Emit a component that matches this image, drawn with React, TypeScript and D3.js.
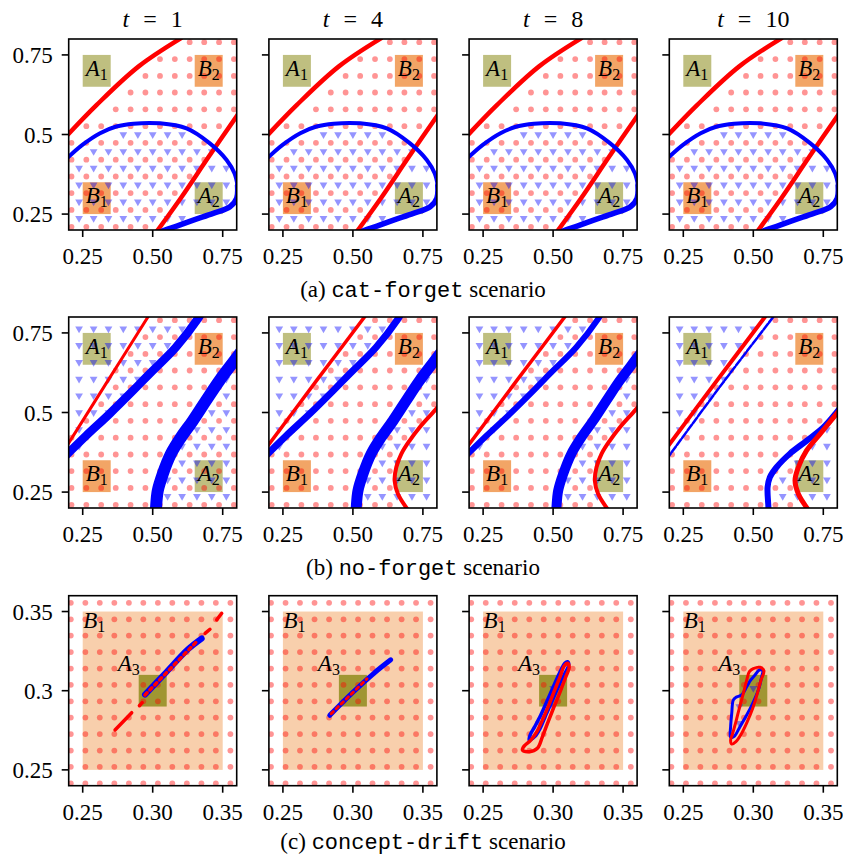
import React from 'react'
import * as d3 from 'd3'

type Pt = [number, number]

// ---------- values ----------
const TIME_STEPS = ['1', '4', '8', '10']
const SCENARIO_TAGS = ['(a)', '(b)', '(c)']
const SCENARIO_NAMES = ['cat-forget', 'no-forget', 'concept-drift']

const AB_TICKS = [0.25, 0.5, 0.75]
const AB_X_LABELS = ['0.25', '0.50', '0.75']
const AB_Y_LABELS = ['0.25', '0.5', '0.75']
const C_TICKS = [0.25, 0.3, 0.35]
const C_X_LABELS = ['0.25', '0.30', '0.35']
const C_Y_LABELS = ['0.25', '0.3', '0.35']

// sample grids (circles and triangles sit on shifted lattices)
const AB_DOT_GRID = [0.21, 0.263, 0.316, 0.368, 0.421, 0.474, 0.526, 0.579, 0.632, 0.684, 0.737, 0.79]
const AB_TRI_GRID = [0.237, 0.289, 0.342, 0.395, 0.447, 0.5, 0.553, 0.605, 0.658, 0.711, 0.763]
const C_DOT_GRID = [0.2415, 0.2519, 0.2622, 0.2726, 0.283, 0.2933, 0.3037, 0.314, 0.3244, 0.3348, 0.3451, 0.3555]

// task regions: letter, index, x0, x1, y0, y1
const AB_BOXES: [string, string, number, number, number, number][] = [
  ['A', '1', 0.25, 0.35, 0.65, 0.75],
  ['B', '2', 0.65, 0.75, 0.65, 0.75],
  ['B', '1', 0.25, 0.35, 0.25, 0.35],
  ['A', '2', 0.65, 0.75, 0.25, 0.35],
]
const C_BOXES: [string, string, number, number, number, number][] = [
  ['B', '1', 0.25, 0.35, 0.25, 0.35],
  ['A', '3', 0.29, 0.31, 0.29, 0.31],
]

// which lattice points are shown (top row first)
const CAT_DOTS = [
  '000000001111',
  '000000111111',
  '000001111111',
  '000011111111',
  '000111111111',
  '011111111110',
  '111111111100',
  '111111111100',
  '111111111000',
  '111111110000',
  '111111100000',
  '111111000000',
]
const CAT_TRIS = [
  '00000000000',
  '00000000000',
  '00000000000',
  '00000000000',
  '00000000000',
  '00011111000',
  '01111111110',
  '11111111111',
  '11111111111',
  '11111111111',
  '11111111000',
]
const NOF_DOTS_T1 = [
  '000000111111',
  '000001111111',
  '000011111111',
  '000111111111',
  '000111111111',
  '001111111111',
  '011111111111',
  '111111111111',
  '111111111111',
  '111111111111',
  '111111111111',
  '111111111111',
]
const NOF_DOTS_LATER = [
  '000000011111',
  '000000111111',
  '000001111111',
  '000011111111',
  '000111111111',
  '001111111111',
  '011111111110',
  '011111111100',
  '111111111000',
  '111111111000',
  '111111111000',
  '111111111000',
]
const NOF_TRIS = [
  '11111111000',
  '11111110000',
  '11111100000',
  '11111000001',
  '11110000001',
  '11100000011',
  '11000000111',
  '10000001111',
  '00000001111',
  '00000011111',
  '00000011111',
]
const NOF_TRIS_T10 = [
  '11111100000',
  '11111000000',
  '11110000000',
  '11110000000',
  '11100000000',
  '11000000000',
  '10000000001',
  '00000000011',
  '00000000111',
  '00000001111',
  '00000001111',
]
const CD_DOTS = [
  '111111111111',
  '111111111111',
  '111111111111',
  '111111111111',
  '111111111111',
  '111111111111',
  '111111111111',
  '111111111111',
  '111111111111',
  '111111111111',
  '111111111111',
  '111111111111',
]
const CD_TRIS_T8: Pt[] = [[0.3, 0.3015], [0.3, 0.29], [0.29, 0.2794]]
const CD_TRIS_T10: Pt[] = [[0.3, 0.3015], [0.29, 0.29], [0.29, 0.2794]]

// boundaries, cat-forget (all four steps look alike)
const CAT_RED_UPPER: Pt[] = [[0.19, 0.493], [0.3, 0.593], [0.45, 0.714], [0.6, 0.802]]
const CAT_RED_LOWER: Pt[] = [[0.51, 0.19], [0.6, 0.3], [0.7, 0.43], [0.81, 0.57]]
const CAT_BLUE_ARC: Pt[] = [[0.19, 0.422], [0.25, 0.468], [0.312, 0.504], [0.37, 0.525], [0.431, 0.534], [0.526, 0.535], [0.621, 0.519], [0.704, 0.472], [0.764, 0.42], [0.792, 0.378], [0.803, 0.34]]
const CAT_BLUE_LOW: Pt[] = [[0.803, 0.34], [0.8, 0.3], [0.776, 0.273], [0.716, 0.252], [0.645, 0.231], [0.586, 0.212], [0.544, 0.2], [0.52, 0.19]]

// boundaries, no-forget
const NOF_RED_A_T1: Pt[] = [[0.19, 0.39], [0.34, 0.6], [0.49, 0.81]]
const NOF_RED_A: Pt[] = [[0.19, 0.388], [0.37, 0.6], [0.55, 0.81]]
const NOF_BLUE_A: Pt[] = [[0.19, 0.365], [0.262, 0.427], [0.345, 0.495], [0.429, 0.568], [0.488, 0.621], [0.583, 0.705], [0.661, 0.794], [0.672, 0.81]]
const NOF_BLUE_A_T10: Pt[] = [[0.19, 0.353], [0.38, 0.58], [0.58, 0.81]]
const NOF_BLUE_B: Pt[] = [[0.511, 0.19], [0.512, 0.202], [0.518, 0.254], [0.536, 0.307], [0.565, 0.37], [0.601, 0.422], [0.643, 0.474], [0.69, 0.537], [0.738, 0.6], [0.792, 0.663], [0.815, 0.69]]
const NOF_BLUE_B_T10: Pt[] = [[0.554, 0.19], [0.554, 0.202], [0.551, 0.265], [0.559, 0.296], [0.583, 0.328], [0.63, 0.37], [0.69, 0.411], [0.75, 0.453], [0.798, 0.501], [0.815, 0.52]]
const NOF_RED_B: Pt[] = [[0.7, 0.19], [0.69, 0.202], [0.661, 0.244], [0.649, 0.286], [0.655, 0.328], [0.673, 0.37], [0.702, 0.411], [0.738, 0.453], [0.792, 0.506], [0.815, 0.53]]
const NOF_RED_B_T10: Pt[] = [[0.7, 0.19], [0.69, 0.202], [0.661, 0.244], [0.649, 0.286], [0.661, 0.328], [0.69, 0.38], [0.738, 0.432], [0.792, 0.49], [0.815, 0.515]]

// boundaries, concept-drift
const CD_BLUE_T1: Pt[] = [[0.2945, 0.2975], [0.31, 0.312], [0.325, 0.326], [0.335, 0.333]]
const CD_RED_T1: Pt[][] = [
  [[0.2731, 0.2752], [0.285, 0.2861]],
  [[0.2905, 0.2905], [0.2925, 0.2925]],
  [[0.2945, 0.2973], [0.3314, 0.331]],
  [[0.3374, 0.3362], [0.3409, 0.3388]],
  [[0.3457, 0.3447], [0.3493, 0.3489]],
]
const CD_BLUE_T4: Pt[] = [[0.2835, 0.2845], [0.3, 0.299], [0.315, 0.311], [0.327, 0.3195]]
const CD_RED_T4: Pt[] = [[0.2845, 0.2855], [0.31, 0.3075]]
const CD_RED_T8: Pt[] = [[0.2781, 0.2625], [0.2829, 0.2615], [0.2888, 0.2636], [0.2924, 0.271], [0.296, 0.2794], [0.3007, 0.2899], [0.3055, 0.3004], [0.3091, 0.3089], [0.3115, 0.3148], [0.3103, 0.3173], [0.3079, 0.3156], [0.305, 0.3089], [0.3007, 0.2994], [0.2965, 0.2899], [0.2924, 0.2815], [0.2884, 0.2741], [0.2841, 0.2688], [0.2793, 0.265]]
const CD_BLUE_T8: Pt[] = [[0.2829, 0.2688], [0.2869, 0.271], [0.2907, 0.2762], [0.2948, 0.2846], [0.2996, 0.2941], [0.3043, 0.3036], [0.3084, 0.311], [0.3112, 0.3162], [0.3103, 0.3183], [0.3084, 0.3173], [0.305, 0.312], [0.3007, 0.3036], [0.296, 0.2941], [0.2912, 0.2846], [0.2869, 0.2773], [0.2836, 0.272]]
const CD_RED_T10: Pt[] = [[0.2846, 0.2663], [0.2876, 0.2678], [0.2917, 0.2731], [0.2957, 0.2804], [0.2996, 0.2889], [0.3029, 0.2983], [0.3055, 0.3067], [0.3076, 0.3126], [0.3048, 0.3148], [0.3, 0.3139], [0.2972, 0.312], [0.2953, 0.3067], [0.2929, 0.2983], [0.29, 0.2889], [0.2876, 0.2804], [0.2853, 0.2731], [0.2838, 0.2688]]
const CD_BLUE_T10: Pt[] = [[0.2838, 0.2705], [0.2862, 0.271], [0.2905, 0.2773], [0.2953, 0.2846], [0.2996, 0.292], [0.3036, 0.3004], [0.306, 0.3089], [0.3067, 0.3126], [0.3043, 0.3131], [0.3012, 0.3099], [0.2981, 0.3067], [0.2953, 0.3025], [0.2917, 0.2973], [0.2876, 0.2958], [0.2857, 0.2941], [0.2846, 0.2857], [0.2838, 0.2773]]

// ---------- layout ----------
const COL_X = [68.7, 268.9, 469.1, 669.3]
const ROW_TOP = [39, 317, 595.7]
const ROW_H = [191, 191, 190]
const PANEL_W = 168
const CAPTION_Y = [297, 575, 849]
const SERIF = '"Liberation Serif", "DejaVu Serif", serif'
const MONO = '"Liberation Mono", "DejaVu Sans Mono", monospace'
const RED = '#ff0000'
const BLUE = '#0000ff'

type Curve = { pts: Pt[]; color: string; w: number; closed?: boolean; dash?: string }
type PanelCfg = { dots: string[]; tris?: string[]; triPts?: Pt[]; curves: Curve[] }

const c = (pts: Pt[], color: string, w: number, extra: Partial<Curve> = {}): Curve => ({ pts, color, w, ...extra })

const ROWS = [
  {
    domain: [0.2, 0.8],
    ticks: AB_TICKS,
    xLabels: AB_X_LABELS,
    yLabels: AB_Y_LABELS,
    boxes: AB_BOXES,
    boxFill: { A: '#bfbf80', B: '#f2a566' },
    labelMode: 'center',
    dotGrid: AB_DOT_GRID,
    triGrid: AB_TRI_GRID,
    panels: TIME_STEPS.map(() => ({
      dots: CAT_DOTS,
      tris: CAT_TRIS,
      curves: [
        c(CAT_RED_UPPER, RED, 4.5),
        c(CAT_RED_LOWER, RED, 4.5),
        c(CAT_BLUE_ARC, BLUE, 4),
        c(CAT_BLUE_LOW, BLUE, 5.5),
      ],
    })) as PanelCfg[],
  },
  {
    domain: [0.2, 0.8],
    ticks: AB_TICKS,
    xLabels: AB_X_LABELS,
    yLabels: AB_Y_LABELS,
    boxes: AB_BOXES,
    boxFill: { A: '#bfbf80', B: '#f2a566' },
    labelMode: 'center',
    dotGrid: AB_DOT_GRID,
    triGrid: AB_TRI_GRID,
    panels: [
      { dots: NOF_DOTS_T1, tris: NOF_TRIS, curves: [c(NOF_RED_A_T1, RED, 3), c(NOF_BLUE_A, BLUE, 8.5), c(NOF_BLUE_B, BLUE, 12)] },
      { dots: NOF_DOTS_LATER, tris: NOF_TRIS, curves: [c(NOF_RED_A, RED, 3.5), c(NOF_BLUE_A, BLUE, 7), c(NOF_BLUE_B, BLUE, 11), c(NOF_RED_B, RED, 4)] },
      { dots: NOF_DOTS_LATER, tris: NOF_TRIS, curves: [c(NOF_RED_A, RED, 3.5), c(NOF_BLUE_A, BLUE, 6), c(NOF_BLUE_B, BLUE, 10), c(NOF_RED_B, RED, 4)] },
      { dots: NOF_DOTS_LATER, tris: NOF_TRIS_T10, curves: [c(NOF_RED_A, RED, 4), c(NOF_BLUE_A_T10, BLUE, 2.5, { dash: '7 2' }), c(NOF_BLUE_B_T10, BLUE, 6), c(NOF_RED_B_T10, RED, 5)] },
    ] as PanelCfg[],
  },
  {
    domain: [0.24, 0.36],
    ticks: C_TICKS,
    xLabels: C_X_LABELS,
    yLabels: C_Y_LABELS,
    boxes: C_BOXES,
    boxFill: { A: '#a09632', B: '#f8cfac' },
    labelMode: 'corner',
    dotGrid: C_DOT_GRID,
    triGrid: C_DOT_GRID,
    panels: [
      {
        dots: CD_DOTS,
        curves: [c(CD_BLUE_T1, BLUE, 6), ...CD_RED_T1.map((s, i) => c(s, RED, 3.5, i === 2 ? { dash: '3 4' } : {}))],
      },
      { dots: CD_DOTS, curves: [c(CD_BLUE_T4, BLUE, 5), c(CD_RED_T4, RED, 3, { dash: '3 4' })] },
      { dots: CD_DOTS, triPts: CD_TRIS_T8, curves: [c(CD_BLUE_T8, BLUE, 3.5, { closed: true }), c(CD_RED_T8, RED, 3.5, { closed: true })] },
      { dots: CD_DOTS, triPts: CD_TRIS_T10, curves: [c(CD_BLUE_T10, BLUE, 3, { closed: true }), c(CD_RED_T10, RED, 3, { closed: true })] },
    ] as PanelCfg[],
  },
]

const triangle = d3.symbol(d3.symbolTriangle, 26)()

function Sub({ x, y, letter, idx, anchor }: any) {
  return (
    <text x={x} y={y} textAnchor={anchor} fontFamily={SERIF} fontSize={23} fill="#000">
      <tspan fontStyle="italic">{letter}</tspan>
      <tspan fontSize={16} dy={4}>{idx}</tspan>
    </text>
  )
}

function Panel({ r, col }: { r: number; col: number }) {
  const row = ROWS[r]
  const cfg = row.panels[col]
  const x0 = COL_X[col]
  const top = ROW_TOP[r]
  const h = ROW_H[r]
  const x = d3.scaleLinear().domain(row.domain).range([x0, x0 + PANEL_W])
  const y = d3.scaleLinear().domain(row.domain).range([top + h, top])
  const clipId = `clip-${r}-${col}`
  const nDot = row.dotGrid.length
  const nTri = row.triGrid.length

  const dots: Pt[] = []
  cfg.dots.forEach((line, i) =>
    line.split('').forEach((ch, j) => {
      if (ch === '1') dots.push([row.dotGrid[j], row.dotGrid[nDot - 1 - i]])
    })
  )
  const tris: Pt[] = []
  if (cfg.tris)
    cfg.tris.forEach((line, i) =>
      line.split('').forEach((ch, j) => {
        if (ch === '1') tris.push([row.triGrid[j], row.triGrid[nTri - 1 - i]])
      })
    )
  if (cfg.triPts) tris.push(...cfg.triPts)

  const path = (cv: Curve) =>
    d3
      .line<Pt>()
      .x((d) => x(d[0]))
      .y((d) => y(d[1]))
      .curve(cv.closed ? d3.curveCatmullRomClosed : d3.curveCatmullRom)(cv.pts) || ''

  return (
    <g>
      <defs>
        <clipPath id={clipId}>
          <rect x={x0} y={top} width={PANEL_W} height={h} />
        </clipPath>
      </defs>
      <g clipPath={`url(#${clipId})`}>
        {row.boxes.map((b, i) => (
          <rect
            key={'b' + i}
            x={x(b[2])}
            y={y(b[5])}
            width={x(b[3]) - x(b[2])}
            height={y(b[4]) - y(b[5])}
            fill={(row.boxFill as any)[b[0]]}
          />
        ))}
        {dots.map((d, i) => (
          <circle key={'d' + i} cx={x(d[0])} cy={y(d[1])} r={2.9} fill="#ff0000" fillOpacity={0.42} />
        ))}
        {tris.map((d, i) => (
          <path
            key={'t' + i}
            d={triangle}
            transform={`translate(${x(d[0])},${y(d[1])}) rotate(180)`}
            fill="#0000ff"
            fillOpacity={0.42}
          />
        ))}
        {cfg.curves.map((cv, i) => (
          <path
            key={'c' + i}
            d={path(cv)}
            fill="none"
            stroke={cv.color}
            strokeWidth={cv.w}
            strokeLinecap="round"
            strokeLinejoin="round"
            strokeDasharray={cv.dash}
          />
        ))}
      </g>
      {row.boxes.map((b, i) =>
        row.labelMode === 'center' ? (
          <Sub
            key={'l' + i}
            x={(x(b[2]) + x(b[3])) / 2}
            y={(y(b[4]) + y(b[5])) / 2 + 5}
            letter={b[0]}
            idx={b[1]}
            anchor="middle"
          />
        ) : b[0] === 'B' ? (
          <Sub key={'l' + i} x={x(b[2]) + 0.5} y={y(b[5]) + 16} letter={b[0]} idx={b[1]} anchor="start" />
        ) : (
          <Sub key={'l' + i} x={x(b[2]) + 1} y={y(b[5]) - 4} letter={b[0]} idx={b[1]} anchor="end" />
        )
      )}
      <rect x={x0} y={top} width={PANEL_W} height={h} fill="none" stroke="#000" strokeWidth={1.6} />
      {row.ticks.map((t, i) => (
        <g key={'xt' + i}>
          <line x1={x(t)} x2={x(t)} y1={top + h} y2={top + h + 7} stroke="#000" strokeWidth={1.6} />
          <text x={x(t)} y={top + h + 34} textAnchor="middle" fontFamily={SERIF} fontSize={23}>
            {row.xLabels[i]}
          </text>
        </g>
      ))}
      {row.ticks.map((t, i) => (
        <g key={'yt' + i}>
          <line x1={x0 - 7} x2={x0} y1={y(t)} y2={y(t)} stroke="#000" strokeWidth={1.6} />
          {col === 0 && (
            <text x={x0 - 16} y={y(t) + 8} textAnchor="end" fontFamily={SERIF} fontSize={23}>
              {row.yLabels[i]}
            </text>
          )}
        </g>
      ))}
    </g>
  )
}

export default function App() {
  return (
    <svg
      width={843}
      height={859}
      viewBox="0 0 843 859"
      style={{ position: 'absolute', left: 0, top: 0, background: '#fff' }}
    >
      <rect width={843} height={859} fill="#fff" />
      {TIME_STEPS.map((t, i) => (
        <text key={'title' + i} x={COL_X[i] + PANEL_W / 2} y={27} textAnchor="middle" fontFamily={SERIF} fontSize={24}>
          <tspan fontStyle="italic">t</tspan>
          <tspan dx={14}>=</tspan>
          <tspan dx={14}>{t}</tspan>
        </text>
      ))}
      {ROWS.map((_, r) => (
        <g key={'row' + r}>
          {TIME_STEPS.map((__, col) => (
            <Panel key={col} r={r} col={col} />
          ))}
          <text x={423} y={CAPTION_Y[r]} textAnchor="middle" fontFamily={SERIF} fontSize={23}>
            <tspan>{SCENARIO_TAGS[r] + ' '}</tspan>
            <tspan fontFamily={MONO} fontSize={22}>
              {SCENARIO_NAMES[r]}
            </tspan>
            <tspan>{' scenario'}</tspan>
          </text>
        </g>
      ))}
    </svg>
  )
}
